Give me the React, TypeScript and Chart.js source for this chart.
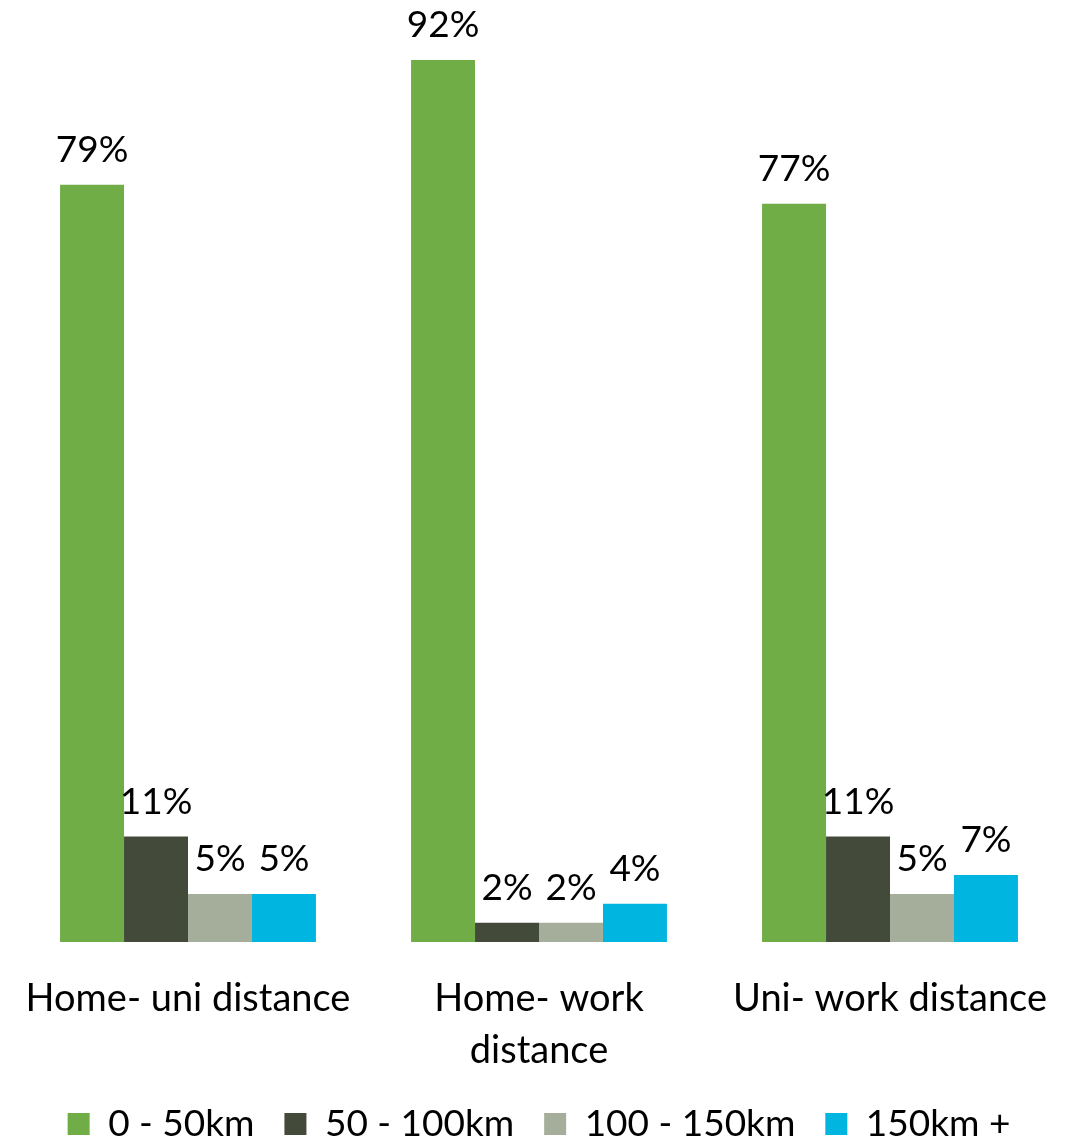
import React, { useEffect, useRef } from "react";
import { Chart, registerables } from "chart.js";

Chart.register(...registerables);

const categories: (string | string[])[] = ["Home- uni distance", ["Home- work", "distance"], "Uni- work distance"];
const seriesNames = ["0 - 50km", "50 - 100km", "100 - 150km", "150km +"];
const s0to50 = [79, 92, 77];
const s50to100 = [11, 2, 11];
const s100to150 = [5, 2, 5];
const s150plus = [5, 4, 7];
const seriesColors = ["#70AD47", "#434A3A", "#A5AE9A", "#00B5E0"];

const FONT = "Lato, 'Open Sans', sans-serif";

const valueLabels = {
  id: "valueLabels",
  afterDatasetsDraw(chart: any) {
    const ctx = chart.ctx;
    ctx.save();
    ctx.font = `37px ${FONT}`;
    ctx.fillStyle = "#000";
    ctx.textAlign = "center";
    ctx.textBaseline = "alphabetic";
    chart.data.datasets.forEach((ds: any, i: number) => {
      const meta = chart.getDatasetMeta(i);
      meta.data.forEach((el: any, j: number) => {
        ctx.fillText(`${ds.data[j]}%`, el.x, el.y - 23);
      });
    });
    ctx.restore();
  },
};

export default function App() {
  const ref = useRef<HTMLCanvasElement | null>(null);
  useEffect(() => {
    if (!ref.current) return;
    const data = [s0to50, s50to100, s100to150, s150plus];
    const chart = new Chart(ref.current, {
      type: "bar",
      data: {
        labels: categories,
        datasets: seriesNames.map((n, i) => ({
          label: n,
          data: data[i],
          backgroundColor: seriesColors[i],
          borderWidth: 0,
          barPercentage: 1,
          categoryPercentage: 0.729,
        })),
      },
      options: {
        animation: false,
        responsive: false,
        maintainAspectRatio: false,
        layout: { padding: { top: 60, left: 12.5, right: 10.5, bottom: 7.5 } },
        scales: {
          x: {
            grid: { display: false, drawTicks: false },
            border: { display: false },
            ticks: {
              color: "#000",
              font: { family: FONT, size: 38, lineHeight: 1.37 },
              padding: 31,
              maxRotation: 0,
              autoSkip: false,
            },
            afterFit: (scale: any) => {
              scale.paddingLeft = 0;
              scale.paddingRight = 0;
              scale.height = 133.5;
            },
          },
          y: { display: false, min: 0, max: 92 },
        },
        plugins: {
          legend: {
            position: "bottom",
            labels: {
              color: "#000",
              font: { family: FONT, size: 37 },
              boxWidth: 22,
              boxHeight: 22,
              padding: 30,
            },
          },
          tooltip: { enabled: false },
        },
      },
      plugins: [valueLabels],
    });
    return () => chart.destroy();
  }, []);
  return (
    <div style={{ position: "fixed", left: 0, top: 0, width: 1076, height: 1138, overflow: "hidden", background: "#fff" }}>
      <canvas ref={ref} width={1076} height={1160} style={{ display: "block" }} />
    </div>
  );
}
